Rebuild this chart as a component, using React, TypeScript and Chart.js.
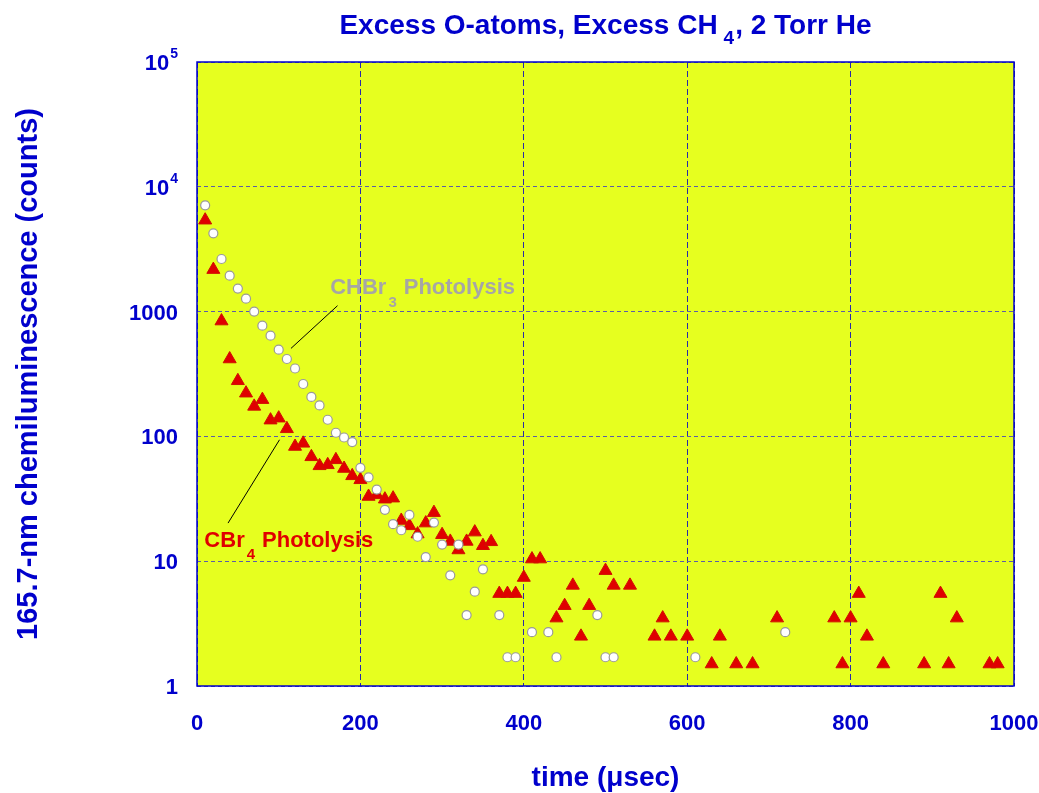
import React, { useEffect, useRef } from "react";
import { Chart, registerables } from "chart.js";

Chart.register(...registerables);

// ---- data (time in µsec, counts) ----
const chbr3Time = [
  10, 20, 30, 40, 50, 60, 70, 80, 90, 100, 110, 120, 130, 140, 150, 160, 170, 180, 190, 200,
  210, 220, 230, 240, 250, 260, 270, 280, 290, 300, 310, 320, 330, 340, 350, 370, 380, 390,
  410, 430, 440, 490, 500, 510, 610, 720,
];
const chbr3Counts = [
  7100, 4240, 2640, 1940, 1530, 1270, 1000, 771, 641, 495, 417, 350, 263, 207, 177, 136, 107, 98, 90, 56,
  47, 37.5, 25.8, 19.8, 17.7, 23.5, 15.7, 10.8, 20.4, 13.6, 7.7, 13.6, 3.7, 5.7, 8.6, 3.7, 1.7, 1.7,
  2.7, 2.7, 1.7, 3.7, 1.7, 1.7, 1.7, 2.7,
];

const cbr4Time = [
  10, 20, 30, 40, 50, 60, 70, 80, 90, 100, 110, 120, 130, 140, 150, 160, 170, 180, 190, 200,
  210, 220, 230, 240, 250, 260, 270, 280, 290, 300, 310, 320, 330, 340, 350, 360, 370, 380, 390, 400,
  410, 420, 440, 450, 460, 470, 480, 500, 510, 530, 560, 570, 580, 600, 630, 640, 660, 680, 710,
  780, 790, 800, 810, 820, 840, 890, 910, 920, 930, 970, 980,
];
const cbr4Counts = [
  5400, 2170, 840, 417, 279, 222, 174, 197, 135, 140, 115, 83, 88, 68.6, 58.1, 59.2, 64.9, 55.3, 48.3, 44.9,
  33, 34, 31.4, 32, 21.2, 19.2, 16.5, 20.2, 24.5, 16.3, 14.4, 12.3, 14.4, 17.1, 13.3, 14.3, 5.5, 5.5, 5.5, 7.4,
  10.4, 10.4, 3.5, 4.4, 6.4, 2.5, 4.4, 8.4, 6.4, 6.4, 2.5, 3.5, 2.5, 2.5, 1.5, 2.5, 1.5, 1.5, 3.5,
  3.5, 1.5, 3.5, 5.5, 2.5, 1.5, 1.5, 5.5, 1.5, 3.5, 1.5, 1.5,
];

const xTickValues = [0, 200, 400, 600, 800, 1000];
const xTickLabels = ["0", "200", "400", "600", "800", "1000"];
const yTickValues = [1, 10, 100, 1000, 10000, 100000];
const yTickBase = ["1", "10", "100", "1000", "10", "10"];
const yTickExp = ["", "", "", "", "4", "5"];

const titleMain = "Excess O-atoms, Excess CH";
const titleSub = "4";
const titleEnd = ", 2 Torr He";
const xTitle = "time (\u03bcsec)";
const yTitle = "165.7-nm chemiluminescence (counts)";

const chbr3Label = ["CHBr", "3", "Photolysis"];
const cbr4Label = ["CBr", "4", "Photolysis"];
// label anchors and leader lines in data coordinates
const chbr3LabelAt = { x: 163, y: 1390 };
const cbr4LabelAt = { x: 9, y: 13.1 };
const chbr3Leader = [{ x: 172, y: 1115 }, { x: 115, y: 507 }];
const cbr4Leader = [{ x: 101, y: 94 }, { x: 38, y: 20.2 }];

const BLUE = "#0000cc";
const RED = "#e00000";
const GREY = "#a6a6a6";
const YELLOW = "#e6ff1f";
const FONT = "'Liberation Sans', Arial, Helvetica, sans-serif";

type Part = { t: string; size: number; dy?: number; gap?: number };

function drawRich(
  ctx: CanvasRenderingContext2D,
  parts: Part[],
  x: number,
  y: number,
  align: "left" | "center" | "right",
  color: string
) {
  let total = 0;
  const widths: number[] = [];
  for (const p of parts) {
    ctx.font = `bold ${p.size}px ${FONT}`;
    const w = ctx.measureText(p.t).width;
    widths.push(w);
    total += (p.gap || 0) + w;
  }
  let cx = align === "left" ? x : align === "right" ? x - total : x - total / 2;
  ctx.textAlign = "left";
  ctx.textBaseline = "alphabetic";
  ctx.fillStyle = color;
  parts.forEach((p, i) => {
    cx += p.gap || 0;
    ctx.font = `bold ${p.size}px ${FONT}`;
    ctx.fillText(p.t, cx, y + (p.dy || 0));
    cx += widths[i];
  });
}

const decorPlugin = {
  id: "decor",
  beforeDraw(chart: any) {
    const { ctx, chartArea: a } = chart;
    ctx.save();
    ctx.fillStyle = YELLOW;
    ctx.fillRect(a.left, a.top, a.right - a.left, a.bottom - a.top);
    ctx.restore();
  },
  afterDraw(chart: any) {
    const { ctx, chartArea: a } = chart;
    const xs = chart.scales.x;
    const ys = chart.scales.y;
    ctx.save();

    // frame
    ctx.strokeStyle = BLUE;
    ctx.lineWidth = 1.5;
    ctx.strokeRect(a.left, a.top, a.right - a.left, a.bottom - a.top);

    // leader lines
    ctx.strokeStyle = "#000000";
    ctx.lineWidth = 1;
    for (const ln of [chbr3Leader, cbr4Leader]) {
      ctx.beginPath();
      ctx.moveTo(xs.getPixelForValue(ln[0].x), ys.getPixelForValue(ln[0].y));
      ctx.lineTo(xs.getPixelForValue(ln[1].x), ys.getPixelForValue(ln[1].y));
      ctx.stroke();
    }

    // series labels
    drawRich(
      ctx,
      [
        { t: chbr3Label[0], size: 22 },
        { t: chbr3Label[1], size: 15, dy: 13, gap: 2 },
        { t: chbr3Label[2], size: 22, gap: 7 },
      ],
      xs.getPixelForValue(chbr3LabelAt.x),
      ys.getPixelForValue(chbr3LabelAt.y),
      "left",
      GREY
    );
    drawRich(
      ctx,
      [
        { t: cbr4Label[0], size: 22 },
        { t: cbr4Label[1], size: 15, dy: 12, gap: 2 },
        { t: cbr4Label[2], size: 22, gap: 7 },
      ],
      xs.getPixelForValue(cbr4LabelAt.x),
      ys.getPixelForValue(cbr4LabelAt.y),
      "left",
      RED
    );

    // title
    drawRich(
      ctx,
      [
        { t: titleMain, size: 28 },
        { t: titleSub, size: 19, dy: 10, gap: 6 },
        { t: titleEnd, size: 28, gap: 1 },
      ],
      (a.left + a.right) / 2,
      34,
      "center",
      BLUE
    );

    // y tick labels
    yTickValues.forEach((v, i) => {
      const py = ys.getPixelForValue(v);
      const parts: Part[] = [{ t: yTickBase[i], size: 22 }];
      if (yTickExp[i]) parts.push({ t: yTickExp[i], size: 14, dy: -12, gap: 1 });
      drawRich(ctx, parts, a.left - 19, py + 8, "right", BLUE);
    });

    // x tick labels
    xTickValues.forEach((v, i) => {
      drawRich(ctx, [{ t: xTickLabels[i], size: 22 }], xs.getPixelForValue(v), a.bottom + 43.5, "center", BLUE);
    });

    // axis titles
    drawRich(ctx, [{ t: xTitle, size: 28 }], (a.left + a.right) / 2, 786, "center", BLUE);

    ctx.translate(29, (a.top + a.bottom) / 2);
    ctx.rotate(-Math.PI / 2);
    ctx.font = `bold 29px ${FONT}`;
    ctx.fillStyle = BLUE;
    ctx.textAlign = "center";
    ctx.textBaseline = "middle";
    ctx.fillText(yTitle, 0, 0);

    ctx.restore();
  },
};

export default function App() {
  const canvasRef = useRef<HTMLCanvasElement | null>(null);

  useEffect(() => {
    if (!canvasRef.current) return;
    const chart = new Chart(canvasRef.current, {
      type: "scatter",
      data: {
        datasets: [
          {
            label: "CHBr3 Photolysis",
            data: chbr3Time.map((t, i) => ({ x: t, y: chbr3Counts[i] })),
            pointStyle: "circle",
            pointRadius: 4.5,
            backgroundColor: "#ffffff",
            borderColor: "#9a9a9a",
            borderWidth: 1.2,
            showLine: false,
          },
          {
            label: "CBr4 Photolysis",
            data: cbr4Time.map((t, i) => ({ x: t, y: cbr4Counts[i] })),
            pointStyle: "triangle",
            pointRadius: 7.5,
            backgroundColor: RED,
            borderColor: "#d01000",
            borderWidth: 1,
            showLine: false,
          },
        ],
      },
      options: {
        animation: false,
        responsive: true,
        maintainAspectRatio: false,
        events: [],
        layout: { padding: { left: 197, top: 62, right: 25, bottom: 107 } },
        plugins: { legend: { display: false }, tooltip: { enabled: false }, title: { display: false } },
        scales: {
          x: {
            type: "linear",
            min: 0,
            max: 1000,
            afterBuildTicks: (s: any) => {
              s.ticks = xTickValues.map((v) => ({ value: v }));
            },
            afterFit: (s: any) => {
              s.height = 0;
            },
            ticks: { display: false },
            grid: { color: "#2a2aa8", lineWidth: 1, drawTicks: false },
            border: { display: false, dash: [6, 3] },
          },
          y: {
            type: "logarithmic",
            min: 1,
            max: 100000,
            afterBuildTicks: (s: any) => {
              s.ticks = yTickValues.map((v) => ({ value: v }));
            },
            afterFit: (s: any) => {
              s.width = 0;
            },
            ticks: { display: false },
            grid: { color: "#5c5ca8", lineWidth: 1, drawTicks: false },
            border: { display: false, dash: [4, 3] },
          },
        },
      },
      plugins: [decorPlugin],
    });
    return () => chart.destroy();
  }, []);

  return (
    <div style={{ position: "fixed", left: 0, top: 0, width: 1039, height: 793, background: "#ffffff" }}>
      <canvas ref={canvasRef} />
    </div>
  );
}
